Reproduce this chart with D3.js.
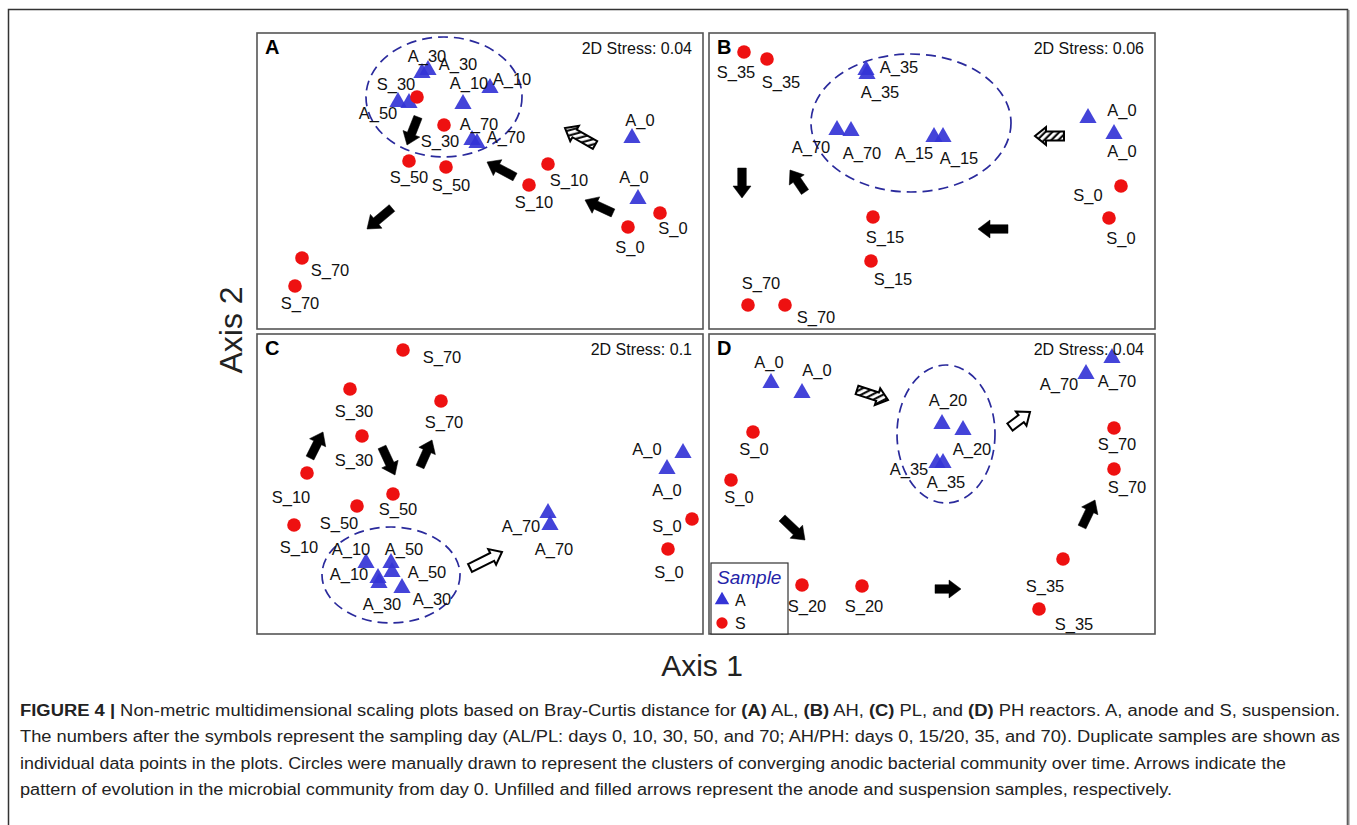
<!DOCTYPE html>
<html>
<head>
<meta charset="utf-8">
<script src="https://cdn.jsdelivr.net/npm/d3@7"></script>
<style>
  body { margin: 0; background: #fff; }
  text { font-family: "Liberation Sans", Arial, Helvetica, sans-serif; }
</style>
</head>
<body>
<svg id="fig" width="1357" height="825"></svg>
<script>
// ---------- NMDS ordination scores (Axis 1, Axis 2) with label anchors ----------
// each row: [sample, axis1, axis2, labelAxis1, labelAxis2]  (label null = hidden under marks)
const samplesAL = [
  ["A_30", -0.58, 1.08, -0.53, 1.25], ["A_30", -0.52, 1.11, -0.22, 1.17],
  ["A_50", -0.82, 0.79, -1.02, 0.68], ["A_50", -0.71, 0.78, null, null],
  ["A_10", -0.17, 0.77, -0.11, 0.98], ["A_10", 0.10, 0.93, 0.32, 1.02],
  ["A_70", -0.08, 0.41, -0.01, 0.57], ["A_70", -0.03, 0.38, 0.26, 0.44],
  ["A_0", 1.52, 0.43, 1.60, 0.61], ["A_0", 1.58, -0.18, 1.54, 0.04],
  ["S_30", -0.63, 0.84, -0.84, 0.97], ["S_30", -0.36, 0.56, -0.40, 0.40],
  ["S_50", -0.71, 0.20, -0.71, 0.04], ["S_50", -0.34, 0.14, -0.29, -0.04],
  ["S_10", 0.68, 0.17, 0.89, 0.01], ["S_10", 0.49, -0.04, 0.54, -0.21],
  ["S_0", 1.80, -0.32, 1.93, -0.47], ["S_0", 1.48, -0.46, 1.50, -0.66],
  ["S_70", -1.78, -0.77, -1.50, -0.89], ["S_70", -1.85, -1.05, -1.80, -1.22]
];
const samplesAH = [
  ["S_35", -1.88, 1.29, -1.96, 1.09], ["S_35", -1.65, 1.22, -1.51, 0.99],
  ["A_35", -0.66, 1.11, -0.33, 1.14], ["A_35", -0.65, 1.07, -0.52, 0.89],
  ["A_70", -0.95, 0.51, -1.21, 0.34], ["A_70", -0.81, 0.50, -0.70, 0.28],
  ["A_15", 0.02, 0.44, -0.18, 0.28], ["A_15", 0.11, 0.44, 0.27, 0.23],
  ["A_0", 1.56, 0.63, 1.90, 0.71], ["A_0", 1.82, 0.47, 1.90, 0.30],
  ["S_0", 1.89, -0.05, 1.56, -0.14], ["S_0", 1.77, -0.37, 1.89, -0.57],
  ["S_15", -0.59, -0.36, -0.47, -0.56], ["S_15", -0.61, -0.80, -0.39, -0.98],
  ["S_70", -1.84, -1.24, -1.71, -1.02], ["S_70", -1.47, -1.24, -1.16, -1.36]
];
const samplesPL = [
  ["S_70", -0.77, 1.34, -0.38, 1.27], ["S_70", -0.39, 0.83, -0.36, 0.62],
  ["S_30", -1.30, 0.95, -1.26, 0.73], ["S_30", -1.18, 0.48, -1.26, 0.24],
  ["S_10", -1.73, 0.11, -1.89, -0.13], ["S_10", -1.86, -0.41, -1.81, -0.63],
  ["S_50", -1.23, -0.22, -1.41, -0.39], ["S_50", -0.87, -0.10, -0.82, -0.25],
  ["A_10", -1.14, -0.79, -1.29, -0.65], ["A_10", -1.02, -0.94, -1.31, -0.90],
  ["A_50", -0.89, -0.79, -0.76, -0.65], ["A_50", -0.88, -0.88, -0.53, -0.88],
  ["A_30", -1.01, -0.99, -0.98, -1.20], ["A_30", -0.78, -1.04, -0.48, -1.15],
  ["A_70", 0.68, -0.29, 0.41, -0.42], ["A_70", 0.70, -0.41, 0.74, -0.65],
  ["A_0", 2.03, 0.31, 1.67, 0.35], ["A_0", 1.87, 0.15, 1.87, -0.06],
  ["S_0", 2.12, -0.35, 1.87, -0.42], ["S_0", 1.88, -0.65, 1.89, -0.88]
];
const samplesPH = [
  ["A_0", -1.61, 1.01, -1.63, 1.22], ["A_0", -1.30, 0.91, -1.15, 1.14],
  ["S_0", -1.79, 0.52, -1.78, 0.35], ["S_0", -2.01, 0.04, -1.93, -0.13],
  ["A_20", 0.10, 0.60, 0.16, 0.84], ["A_20", 0.31, 0.54, 0.40, 0.35],
  ["A_35", 0.05, 0.21, -0.23, 0.15], ["A_35", 0.11, 0.21, 0.14, 0.02],
  ["A_70", 1.54, 1.10, 1.27, 1.00], ["A_70", 1.80, 1.26, 1.85, 1.03],
  ["S_70", 1.82, 0.56, 1.85, 0.40], ["S_70", 1.82, 0.15, 1.95, -0.03],
  ["S_35", 1.31, -0.75, 1.13, -1.02], ["S_35", 1.07, -1.25, 1.42, -1.40],
  ["S_20", -1.30, -1.01, -1.25, -1.22], ["S_20", -0.70, -1.02, -0.68, -1.22]
];

// anodic cluster outlines: [centre axis1, centre axis2, radius axis1, radius axis2]
const clusterAL = [-0.36, 0.84, 0.78, 0.60];
const clusterAH = [-0.21, 0.58, 1.00, 0.69];
const clusterPL = [-0.89, -0.91, 0.69, 0.48];
const clusterPH = [0.14, 0.50, 0.49, 0.69];

// community trajectories: [fromX, fromY, toX, toY, kind]  kind: "S" filled, "A" unfilled, "Ah" unfilled hatched
const arrowsAL = [
  [-0.62, 0.64, -0.73, 0.36, "S"], [0.35, 0.04, 0.07, 0.19, "S"],
  [1.33, -0.32, 1.05, -0.19, "S"], [-0.88, -0.27, -1.13, -0.48, "S"],
  [1.15, 0.36, 0.85, 0.53, "Ah"]
];
const arrowsAH = [
  [-1.90, 0.13, -1.90, -0.17, "S"], [-1.27, -0.11, -1.42, 0.11, "S"],
  [0.76, -0.48, 0.46, -0.48, "S"], [1.32, 0.45, 1.03, 0.45, "Ah"]
];
const arrowsPL = [
  [-1.70, 0.26, -1.57, 0.52, "S"], [-0.98, 0.37, -0.85, 0.09, "S"],
  [-0.60, 0.17, -0.48, 0.44, "S"], [-0.10, -0.84, 0.22, -0.68, "A"]
];
const arrowsPH = [
  [-0.75, 0.94, -0.44, 0.84, "Ah"], [0.78, 0.57, 0.98, 0.72, "A"],
  [-1.50, -0.34, -1.27, -0.56, "S"], [0.03, -1.05, 0.29, -1.05, "S"],
  [1.50, -0.43, 1.63, -0.16, "S"]
];

const panelLetters = ["A", "B", "C", "D"];
const stressValues = ["0.04", "0.06", "0.1", "0.04"];
const legendGroups = ["A", "S"];

const captionLines = [
  [["b", "FIGURE 4 | "], ["n", "Non-metric multidimensional scaling plots based on Bray-Curtis distance for "], ["b", "(A)"], ["n", " AL, "], ["b", "(B)"], ["n", " AH, "], ["b", "(C)"], ["n", " PL, and "], ["b", "(D)"], ["n", " PH reactors. A, anode and S, suspension."]],
  [["n", "The numbers after the symbols represent the sampling day (AL/PL: days 0, 10, 30, 50, and 70; AH/PH: days 0, 15/20, 35, and 70). Duplicate samples are shown as"]],
  [["n", "individual data points in the plots. Circles were manually drawn to represent the clusters of converging anodic bacterial community over time. Arrows indicate the"]],
  [["n", "pattern of evolution in the microbial community from day 0. Unfilled and filled arrows represent the anode and suspension samples, respectively."]]
];

// ---------- drawing ----------
const svg = d3.select("#fig");
const BLUE = "#3434d6", RED = "#ee1111";

// hatch pattern for anode arrows
const defs = svg.append("defs");
const pat = defs.append("pattern").attr("id", "hatch").attr("patternUnits", "userSpaceOnUse")
  .attr("width", 5).attr("height", 5).attr("patternTransform", "rotate(45)");
pat.append("rect").attr("width", 5).attr("height", 5).attr("fill", "#fff");
pat.append("rect").attr("width", 2.2).attr("height", 5).attr("fill", "#111");

// outer figure frame (open at the bottom)
svg.append("path").attr("d", "M8.5,826 V9.5 H1347.5 V826")
  .attr("fill", "none").attr("stroke", "#333").attr("stroke-width", 1.5);
svg.append("line").attr("x1", 1348.5).attr("x2", 1348.5).attr("y1", 10).attr("y2", 826)
  .attr("stroke", "#888").attr("stroke-width", 2);

const panels = [
  { samples: samplesAL, cluster: clusterAL, arrows: arrowsAL, box: [257, 33, 446, 296] },
  { samples: samplesAH, cluster: clusterAH, arrows: arrowsAH, box: [709, 33, 446, 296] },
  { samples: samplesPL, cluster: clusterPL, arrows: arrowsPL, box: [257, 334, 446, 300] },
  { samples: samplesPH, cluster: clusterPH, arrows: arrowsPH, box: [709, 334, 446, 300] }
];

function arrowPath(len, shaft, headW, headL) {
  const b = len - headL;
  return `M0,${-shaft} L${b},${-shaft} L${b},${-headW} L${len},0 L${b},${headW} L${b},${shaft} L0,${shaft} Z`;
}

const triangle = d3.symbol().type(d3.symbolTriangle).size(128);
const circle = d3.symbol().type(d3.symbolCircle).size(145);

panels.forEach((p, i) => {
  const [bx, by, bw, bh] = p.box;
  const halfY = bh / 200;
  const x = d3.scaleLinear().domain([-bw / 200, bw / 200]).range([bx, bx + bw]);
  const y = d3.scaleLinear().domain([-halfY, halfY]).range([by + bh, by]);
  const g = svg.append("g");

  g.append("rect").attr("x", bx).attr("y", by).attr("width", bw).attr("height", bh)
    .attr("fill", "#fff").attr("stroke", "#555").attr("stroke-width", 1.6);

  // cluster outline
  const [cx, cy, rx, ry] = p.cluster;
  g.append("ellipse").attr("cx", x(cx)).attr("cy", y(cy))
    .attr("rx", x(cx + rx) - x(cx)).attr("ry", y(cy) - y(cy + ry))
    .attr("fill", "none").attr("stroke", "#2a2a9c").attr("stroke-width", 1.7)
    .attr("stroke-dasharray", "10,6");

  // trajectories
  p.arrows.forEach(a => {
    const x1 = x(a[0]), y1 = y(a[1]), x2 = x(a[2]), y2 = y(a[3]);
    const len = Math.hypot(x2 - x1, y2 - y1);
    const ang = Math.atan2(y2 - y1, x2 - x1) * 180 / Math.PI;
    const filled = a[4] === "S";
    g.append("path")
      .attr("d", filled ? arrowPath(len, 4.3, 9, 12) : arrowPath(len, 4.4, 8.8, 11))
      .attr("transform", `translate(${x1},${y1}) rotate(${ang})`)
      .attr("fill", filled ? "#000" : (a[4] === "Ah" ? "url(#hatch)" : "#fff"))
      .attr("stroke", "#000").attr("stroke-width", filled ? 0.5 : 2)
      .attr("stroke-linejoin", "miter");
  });

  // samples
  g.selectAll("path.pt").data(p.samples).join("path").attr("class", "pt")
    .attr("d", d => d[0][0] === "A" ? triangle() : circle())
    .attr("transform", d => `translate(${x(d[1])},${y(d[2])})`)
    .attr("fill", d => d[0][0] === "A" ? BLUE : RED)
    .attr("fill-opacity", d => d[0][0] === "A" ? 0.92 : 1);

  g.selectAll("text.lab").data(p.samples.filter(d => d[3] !== null)).join("text").attr("class", "lab")
    .attr("x", d => x(d[3])).attr("y", d => y(d[4]))
    .attr("text-anchor", "middle").attr("dominant-baseline", "central")
    .attr("font-size", 16.5).attr("fill", "#111").text(d => d[0]);

  // panel letter and stress
  g.append("text").attr("x", bx + 8).attr("y", by + 21).attr("font-size", 20)
    .attr("font-weight", "bold").attr("fill", "#000").text(panelLetters[i]);
  g.append("text").attr("x", bx + bw - 11).attr("y", by + 21).attr("font-size", 16)
    .attr("text-anchor", "end").attr("fill", "#111").text("2D Stress: " + stressValues[i]);

  // legend in panel D
  if (i === 3) {
    const lg = g.append("g");
    lg.append("rect").attr("x", bx + 2).attr("y", by + bh - 71).attr("width", 77).attr("height", 71)
      .attr("fill", "#fff").attr("stroke", "#333").attr("stroke-width", 1.2);
    lg.append("text").attr("x", bx + 8).attr("y", by + bh - 50).attr("font-size", 19)
      .attr("font-style", "italic").attr("fill", "#2424a8").text("Sample");
    legendGroups.forEach((k, j) => {
      const yy = by + bh - 34 + j * 23;
      lg.append("path").attr("d", k === "A" ? triangle.size(90)() : circle.size(100)())
        .attr("transform", `translate(${bx + 13},${yy})`).attr("fill", k === "A" ? BLUE : RED);
      lg.append("text").attr("x", bx + 26).attr("y", yy).attr("dominant-baseline", "central")
        .attr("font-size", 16).attr("fill", "#111").text(k);
    });
    triangle.size(128); circle.size(145);
  }
});

// axis titles
svg.append("text").attr("transform", "translate(242,330) rotate(-90)")
  .attr("text-anchor", "middle").attr("font-size", 32).attr("fill", "#222").text("Axis 2");
svg.append("text").attr("x", 702).attr("y", 676)
  .attr("text-anchor", "middle").attr("font-size", 30).attr("fill", "#222").text("Axis 1");

// caption
const capWidths = [1320, 1320, 1266, 1152];
captionLines.forEach((line, li) => {
  const t = svg.append("text").attr("x", 20).attr("y", 716 + li * 26.3)
    .attr("font-size", 16).attr("fill", "#222")
    .attr("textLength", capWidths[li]).attr("lengthAdjust", "spacingAndGlyphs");
  line.forEach(seg => {
    t.append("tspan").attr("font-weight", seg[0] === "b" ? "bold" : "normal").text(seg[1]);
  });
});
</script>
</body>
</html>
